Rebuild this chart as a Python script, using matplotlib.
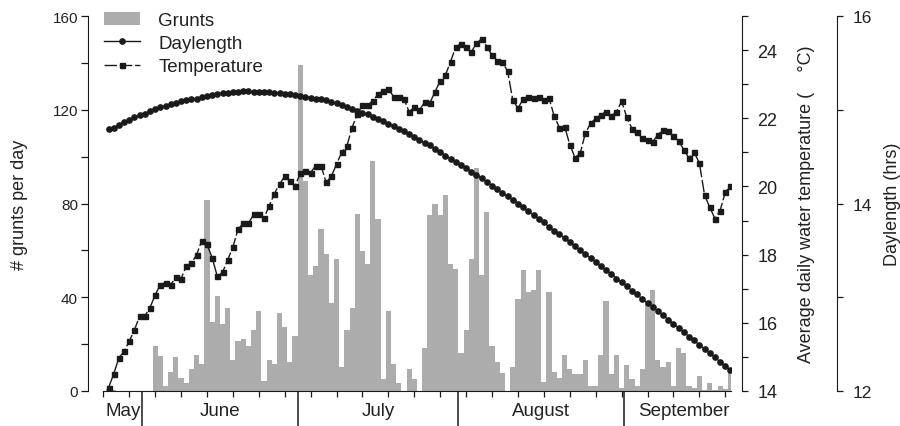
import numpy as np
import matplotlib.pyplot as plt
import matplotlib.transforms as mtransforms
from matplotlib.ticker import MultipleLocator, FixedLocator, NullFormatter

plt.rcParams['font.family'] = ['Liberation Sans', 'DejaVu Sans']

# day 1 = May 25 ... day 121 = Sep 22
days = np.arange(1, 122)

grunts = [1.0, 0.5, 0, 0, 0, 0, 0, 0, 0,
          19.4, 15.1, 2.3, 8.3, 14.3, 5.4, 3.4, 9.4, 15.4, 11.4, 81.4,
          29.4, 40.4, 28.5, 35.4, 13.3, 21.4, 22.2, 19.4, 26.2, 34.2,
          4.3, 13.3, 11.4, 33.2, 27.4, 12.3, 23.4, 139, 89.5, 49.3,
          53.3, 69.3, 58.3, 37.4, 56.2, 10.1, 26.2, 35.4, 75.4, 59.6,
          54.3, 98.3, 73.3, 5.1, 34.1, 11.6, 3.3, 0, 9.3, 5.1,
          0, 18.3, 75.3, 79.6, 75.3, 83.6, 54.3, 52.2, 16.3, 26.2,
          56.2, 95.3, 49.3, 76.4, 19.4, 12.3, 7.6, 0, 10.1, 39.4,
          51.5, 42.2, 43.3, 51.5, 3.7, 42.2, 8.3, 5.4, 15.4, 9.4,
          7.3, 7.3, 13.3, 2.3, 2.3, 15.4, 38.2, 7.3, 15.4, 1.1,
          11.3, 5.1, 2.3, 9.4, 37.2, 43.3, 13.3, 10.4, 12.3, 2.3,
          18.3, 16.3, 2.3, 1.1, 6.3, 0.6, 3.3, 0.4, 2.3, 1.0, 8.7]

temperature = [14.09, 14.5, 14.97, 15.16, 15.46, 15.79, 16.2, 16.2, 16.44, 16.82,
               17.12, 17.18, 17.12, 17.34, 17.3, 17.66, 17.75, 18.0, 18.41, 18.3,
               17.91, 17.36, 17.48, 17.85, 18.22, 18.75, 18.92, 18.92, 19.18, 19.18,
               19.08, 19.43, 19.79, 20.07, 20.3, 20.15, 20.02, 20.39, 20.46, 20.41,
               20.61, 20.61, 20.12, 20.3, 20.66, 21.0, 21.19, 21.73, 22.12, 22.39,
               22.39, 22.51, 22.71, 22.81, 22.86, 22.64, 22.64, 22.58, 22.19, 22.32,
               22.24, 22.48, 22.45, 22.78, 23.1, 23.27, 23.66, 24.1, 24.18, 24.08,
               23.95, 24.2, 24.34, 24.1, 23.85, 23.69, 23.64, 23.39, 22.53, 22.3,
               22.56, 22.63, 22.61, 22.63, 22.53, 22.59, 22.06, 21.73, 21.76, 21.23,
               20.85, 20.97, 21.56, 21.85, 22.0, 22.1, 22.2, 22.07, 22.19, 22.5,
               22.03, 21.7, 21.59, 21.41, 21.36, 21.31, 21.52, 21.65, 21.62, 21.47,
               21.34, 21.08, 20.83, 21.0, 20.69, 19.75, 19.39, 19.06, 19.29, 19.83, 20.02]

daylength = [14.79, 14.81, 14.84, 14.87, 14.89, 14.92, 14.94, 14.96, 14.99, 15.01,
             15.03, 15.04, 15.06, 15.07, 15.09, 15.10, 15.11, 15.12, 15.14, 15.15,
             15.16, 15.17, 15.18, 15.18, 15.19, 15.19, 15.20, 15.20, 15.19, 15.19,
             15.19, 15.19, 15.18, 15.18, 15.17, 15.17, 15.16, 15.15, 15.14, 15.13,
             15.12, 15.11, 15.10, 15.08, 15.07, 15.05, 15.03, 15.01, 14.99, 14.97,
             14.95, 14.92, 14.90, 14.88, 14.85, 14.83, 14.80, 14.77, 14.74, 14.71,
             14.68, 14.65, 14.62, 14.58, 14.55, 14.51, 14.48, 14.44, 14.41, 14.38,
             14.34, 14.30, 14.27, 14.23, 14.19, 14.15, 14.11, 14.08, 14.04, 14.00,
             13.96, 13.92, 13.88, 13.84, 13.80, 13.75, 13.71, 13.67, 13.63, 13.59,
             13.55, 13.50, 13.46, 13.42, 13.38, 13.33, 13.29, 13.25, 13.20, 13.16,
             13.12, 13.07, 13.03, 12.98, 12.94, 12.90, 12.85, 12.81, 12.76, 12.72,
             12.67, 12.63, 12.58, 12.54, 12.49, 12.45, 12.40, 12.36, 12.31, 12.27, 12.22]

month_names = ['May', 'June', 'July', 'August', 'September']
month_edges = [0, 7.5, 37.5, 68.5, 100.4, 121.1]

ink = '#1a1a1a'
txt = '#222222'

fig = plt.figure(figsize=(9, 4.27), dpi=100)
ax = fig.add_axes([0.1148, 0.082, 0.6974, 0.878])

bars = ax.bar(days, grunts, width=1.0, color='#acacac', linewidth=0, label='Grunts', zorder=1)
ax.set_xlim(month_edges[0], month_edges[-1])
ax.set_ylim(0, 160)

for s in ['top', 'right']:
    ax.spines[s].set_visible(False)
ax.spines['left'].set_position(('outward', 10.8))
ax.spines['left'].set_color(ink)
ax.spines['bottom'].set_color(ink)

ax.yaxis.set_major_locator(MultipleLocator(40))
ax.yaxis.set_minor_locator(MultipleLocator(20))
ax.tick_params(axis='y', which='both', length=5, width=0.9, color=ink,
               labelsize=11, labelcolor=txt, pad=2.5)
ax.set_ylabel('# grunts per day', fontsize=13, color=txt)
ax.yaxis.set_label_coords(-0.12, 0.5)

# x axis: 5-day ticks and long month separators
ax.xaxis.set_major_locator(FixedLocator(month_edges[1:-1]))
ax.xaxis.set_minor_locator(MultipleLocator(5))
ax.xaxis.set_major_formatter(NullFormatter())
ax.tick_params(axis='x', which='major', length=25, width=1.1, color=ink)
ax.tick_params(axis='x', which='minor', length=4.5, width=0.9, color=ink)
trans = mtransforms.blended_transform_factory(ax.transData, ax.transAxes)
for i, name in enumerate(month_names):
    mid = (month_edges[i] + month_edges[i + 1]) / 2
    if name == 'September':
        mid += 1.2
    ax.text(mid, -0.053, name, transform=trans, ha='center', va='center',
            fontsize=13.5, color=txt)

# temperature axis
ax_t = ax.twinx()
ax_t.plot(days, temperature, color=ink, lw=1.0, ls=(0, (9, 2)), marker='s', ms=3.6,
          label='Temperature', zorder=3)
ax_t.set_ylim(14, 25)
for s in ['top', 'left', 'bottom']:
    ax_t.spines[s].set_visible(False)
ax_t.spines['right'].set_position(('outward', 7.9))
ax_t.spines['right'].set_color(ink)
ax_t.yaxis.set_major_locator(FixedLocator([14, 16, 18, 20, 22, 24]))
ax_t.yaxis.set_minor_locator(MultipleLocator(1))
ax_t.tick_params(axis='y', which='both', length=4, width=0.9, color=ink,
                 labelsize=13, labelcolor=txt, pad=7)
ax_t.set_ylabel('Average daily water temperature (    °C)', fontsize=13, color=txt)
ax_t.yaxis.set_label_coords(1.107, 0.5)

# daylength axis
ax_d = ax.twinx()
ax_d.plot(days, daylength, color=ink, lw=1.0, marker='o', ms=3.8,
          label='Daylength', zorder=3)
ax_d.set_ylim(12, 16)
for s in ['top', 'left', 'bottom']:
    ax_d.spines[s].set_visible(False)
ax_d.spines['right'].set_position(('outward', 76.5))
ax_d.spines['right'].set_color(ink)
ax_d.yaxis.set_major_locator(FixedLocator([12, 14, 16]))
ax_d.yaxis.set_minor_locator(MultipleLocator(1))
ax_d.tick_params(axis='y', which='both', length=4.5, width=0.9, color=ink,
                 labelsize=12.5, labelcolor=txt, pad=6.5)
ax_d.set_ylabel('Daylength (hrs)', fontsize=13, color=txt)
ax_d.yaxis.set_label_coords(1.243, 0.5)

handles = [bars, ax_d.get_lines()[0], ax_t.get_lines()[0]]
labels = ['Grunts', 'Daylength', 'Temperature']
ax_d.legend(handles, labels, loc='upper left', bbox_to_anchor=(0.001, 1.012),
            frameon=False, fontsize=13.5, handlelength=1.9, handletextpad=1.0,
            labelspacing=0.33, borderaxespad=0, borderpad=0, labelcolor=txt)

fig.savefig('out.png', dpi=100)
